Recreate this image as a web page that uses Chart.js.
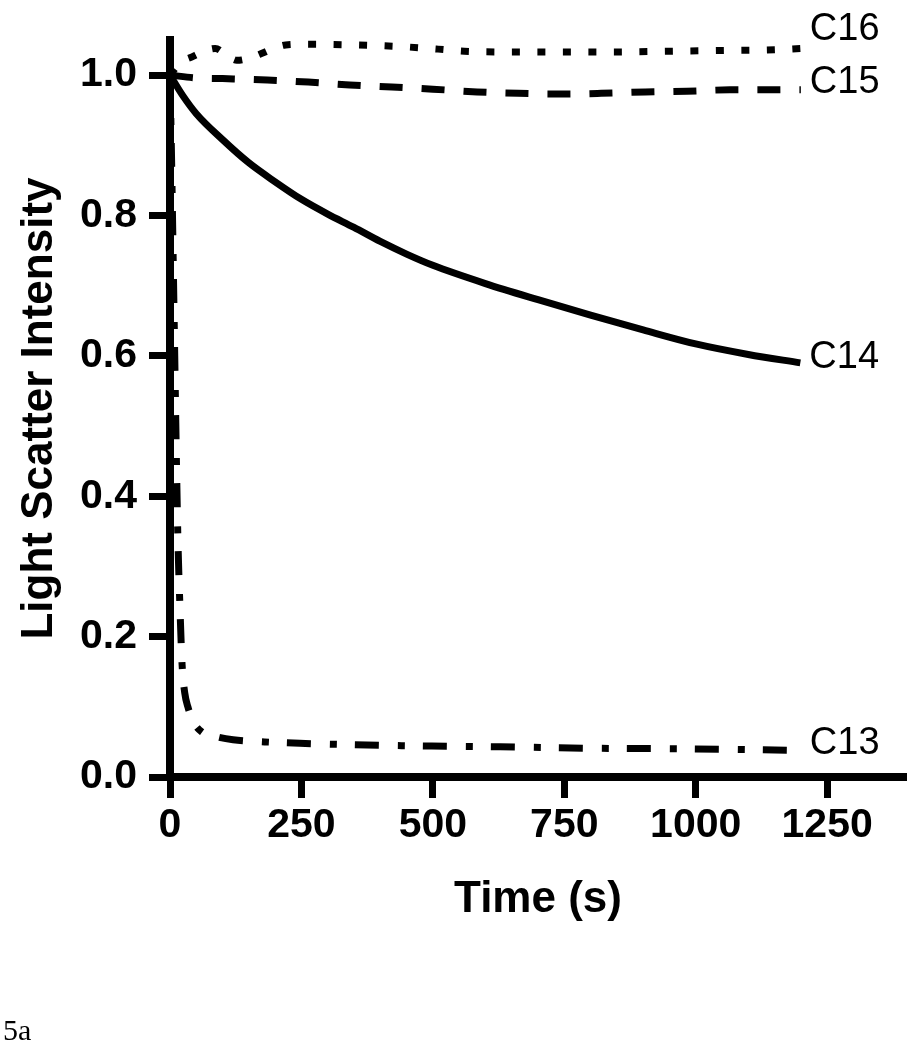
<!DOCTYPE html>
<html>
<head>
<meta charset="utf-8">
<title>Light scatter</title>
<script src="https://cdn.jsdelivr.net/npm/chart.js@4.4.1/dist/chart.umd.min.js"></script>
<style>
  body { margin: 0; background: #fff; }
  .wrap { position: relative; width: 917px; height: 1050px; }
  .fig { position: absolute; left: 3px; top: 1015px; line-height: 1; font-size: 30px; font-family: "Liberation Serif", "Times New Roman", serif; }
</style>
</head>
<body>
<div class="wrap">
  <canvas id="chart" width="917" height="1050"></canvas>
  <div class="fig">5a</div>
</div>
<script>
// values (time in s, normalised light scatter)
const t16 = [0, 20, 42, 65, 86, 105, 127, 150, 175, 200, 220, 260, 350, 430, 510, 560, 650, 750, 850, 950, 1050, 1150, 1200];
const c16 = [1.0, 1.018, 1.026, 1.034, 1.038, 1.030, 1.021, 1.024, 1.031, 1.039, 1.043, 1.044, 1.043, 1.041, 1.037, 1.034, 1.033, 1.033, 1.033, 1.034, 1.035, 1.036, 1.038];

const t15 = [0, 50, 100, 185, 263, 342, 422, 500, 584, 662, 742, 820, 904, 983, 1065, 1145, 1200];
const c15 = [1.0, 0.996, 0.995, 0.993, 0.990, 0.986, 0.983, 0.980, 0.976, 0.974, 0.973, 0.974, 0.976, 0.977, 0.979, 0.979, 0.979];

const t14 = [0, 25, 50, 100, 150, 200, 250, 300, 350, 400, 450, 500, 600, 700, 800, 900, 1000, 1100, 1199];
const c14 = [1.0, 0.970, 0.945, 0.908, 0.875, 0.848, 0.823, 0.802, 0.783, 0.763, 0.745, 0.729, 0.703, 0.680, 0.658, 0.637, 0.617, 0.602, 0.590];

const t13 = [0, 3, 6, 9, 12, 15, 19, 23, 28, 34, 45, 61, 90, 120, 180, 247, 350, 498, 628, 800, 1000, 1200];
const c13 = [1.0, 0.88, 0.74, 0.60, 0.46, 0.34, 0.24, 0.16, 0.12, 0.10, 0.078, 0.064, 0.057, 0.053, 0.050, 0.048, 0.046, 0.044, 0.043, 0.041, 0.040, 0.038];

const xTicks = [0, 250, 500, 750, 1000, 1250];
const yTicks = [0, 0.2, 0.4, 0.6, 0.8, 1.0];

const toPoints = (ts, vs) => ts.map((t, i) => ({ x: t, y: vs[i] }));

const sans = '"Liberation Sans", Arial, Helvetica, sans-serif';

// writes the series name just right of where each curve stops
const endLabels = {
  id: 'endLabels',
  afterDatasetsDraw(chart) {
    const ctx = chart.ctx;
    ctx.save();
    ctx.font = '38px ' + sans;
    ctx.fillStyle = '#000';
    ctx.textBaseline = 'middle';
    ctx.textAlign = 'left';
    chart.data.datasets.forEach((ds, i) => {
      const pts = chart.getDatasetMeta(i).data;
      const last = pts[pts.length - 1];
      ctx.fillText(ds.label, last.x + 9, last.y + ds.labelShift);
    });
    ctx.restore();
  }
};

const line = (label, ts, vs, dash, labelShift) => ({
  label: label,
  data: toPoints(ts, vs),
  borderColor: '#000',
  borderWidth: 7,
  borderDash: dash,
  borderCapStyle: 'butt',
  pointRadius: 0,
  fill: false,
  cubicInterpolationMode: 'monotone',
  clip: false,
  labelShift: labelShift
});

new Chart(document.getElementById('chart'), {
  type: 'line',
  data: {
    datasets: [
      line('C16', t16, c16, [8, 17.5], -19),
      line('C15', t15, c15, [23, 19], -7),
      line('C14', t14, c14, [], -5),
      line('C13', t13, c13, [24, 19, 7, 18], -7)
    ]
  },
  options: {
    responsive: false,
    animation: false,
    layout: { padding: { left: 0, top: 40, right: 11, bottom: 0 } },
    plugins: { legend: { display: false }, tooltip: { enabled: false } },
    scales: {
      x: {
        type: 'linear',
        min: 0,
        max: 1400,
        afterFit: (s) => { s.height = 273; },
        afterBuildTicks: (s) => { s.ticks = xTicks.map(v => ({ value: v })); },
        border: { display: true, color: '#000', width: 8 },
        grid: { drawOnChartArea: false, drawTicks: true, tickLength: 21, tickWidth: 7, tickColor: '#000' },
        ticks: { color: '#000', padding: 3, maxRotation: 0, callback: (v) => String(v), font: { family: sans, size: 41, weight: 'bold' } },
        title: { display: true, text: 'Time (s)', color: '#000', padding: { top: 4, bottom: 124 }, font: { family: sans, size: 44, weight: 'bold' } }
      },
      y: {
        type: 'linear',
        min: 0,
        max: 1.05,
        afterFit: (s) => { s.width = 170; },
        afterBuildTicks: (s) => { s.ticks = yTicks.map(v => ({ value: v })); },
        border: { display: true, color: '#000', width: 8 },
        grid: { drawOnChartArea: false, drawTicks: true, tickLength: 21, tickWidth: 7, tickColor: '#000' },
        ticks: { color: '#000', padding: 12, callback: (v) => v.toFixed(1), font: { family: sans, size: 41, weight: 'bold' } },
        title: { display: true, text: 'Light Scatter Intensity', color: '#000', padding: { top: 13, bottom: 4 }, font: { family: sans, size: 44, weight: 'bold' } }
      }
    }
  },
  plugins: [endLabels]
});
</script>
</body>
</html>
